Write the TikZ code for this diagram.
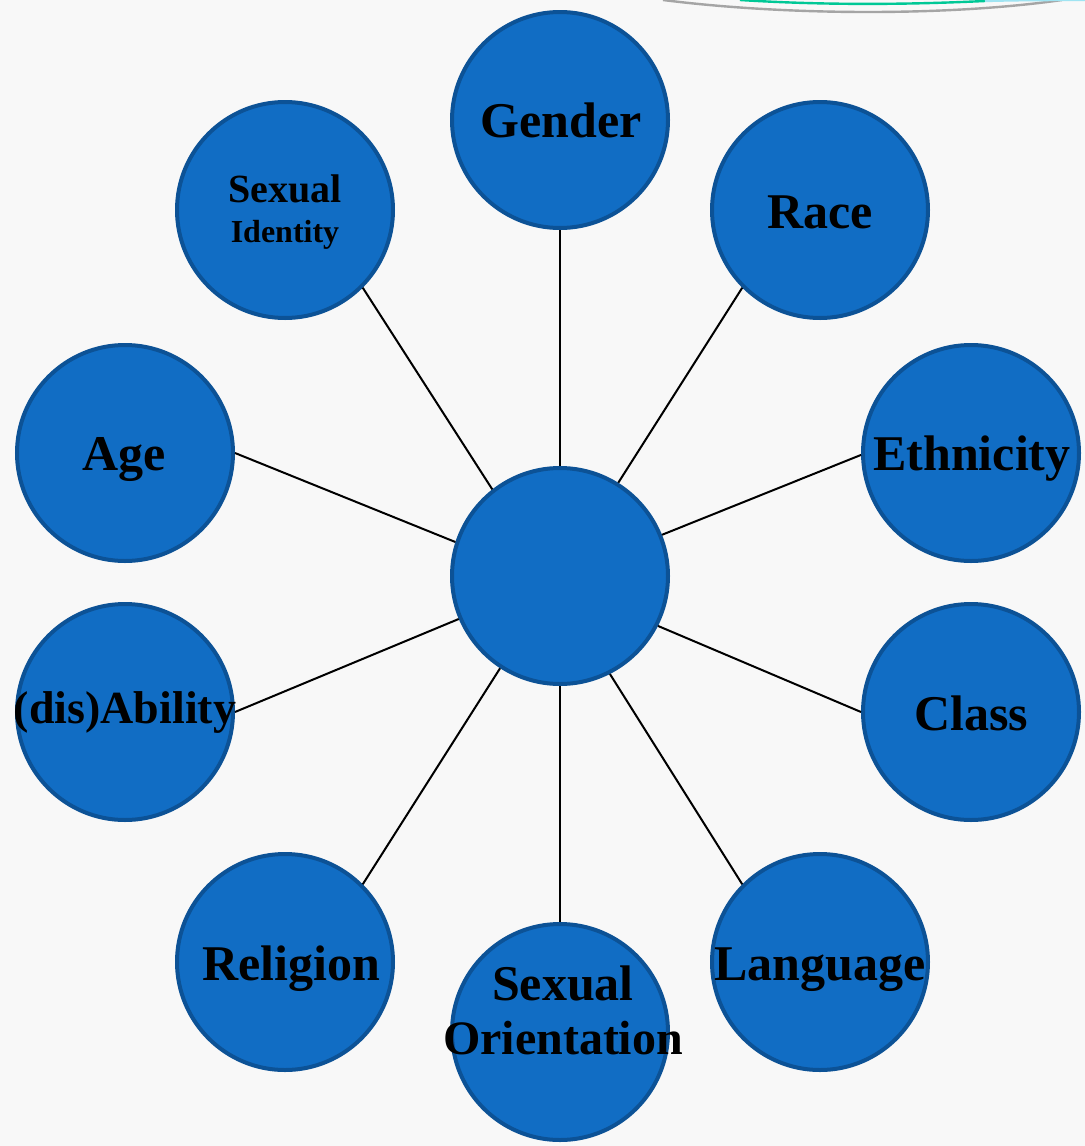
\documentclass[tikz,border=0pt]{standalone}
\usepackage{fontspec}
\setmainfont{Liberation Serif}

\definecolor{bgGray}{RGB}{248,248,248}
\definecolor{ballBlue}{RGB}{17,109,196}
\definecolor{ballEdge}{RGB}{12,82,150}
\definecolor{rimGray}{RGB}{165,165,165}
\definecolor{rimTeal}{RGB}{0,200,150}
\definecolor{rimCyan}{RGB}{160,228,242}

\tikzset{
  ball/.style={circle,draw=ballEdge,fill=ballBlue,line width=2pt,minimum size=108pt,inner sep=0pt},
  word/.style={font=\bfseries\fontsize{25}{30}\selectfont,text=black,align=center,inner sep=0pt},
  oneline/.style={word,text height=17pt,text depth=0pt}
}

\begin{document}
\begin{tikzpicture}[x=0.5pt,y=-0.5pt]
			\useasboundingbox (0,0) rectangle (1085,1146);
			\fill[bgGray] (0,0) rectangle (1085,1146);

			% rim of the slide, top right
			\draw[rimGray,line width=1.2pt] (663,0) .. controls (790,16) and (950,16) .. (1062,0);
			\draw[rimTeal,line width=1.2pt] (740,0) .. controls (820,5) and (900,5) .. (985,1);
			\draw[rimCyan,line width=1.2pt] (985,1) .. controls (1020,0) and (1050,0) .. (1085,0);

			\node[ball] (hub) at (560,576) {};
			\node[ball] (gender) at (560,120) {};
			\node[ball] (race) at (820,210) {};
			\node[ball] (ethnicity) at (971,453) {};
			\node[ball] (class) at (971,712) {};
			\node[ball] (language) at (820,962) {};
			\node[ball] (orient) at (560,1032) {};
			\node[ball] (religion) at (285,962) {};
			\node[ball] (ability) at (125,712) {};
			\node[ball] (age) at (125,453) {};
			\node[ball] (identity) at (285,210) {};

			\draw[line width=1pt] (gender.south) -- (hub.north);
			\draw[line width=1pt] (race.225) -- (hub.58);
			\draw[line width=1pt] (ethnicity.181) -- (hub.22.5);
			\draw[line width=1pt] (class.west) -- (hub.-27.5);
			\draw[line width=1pt] (language.135) -- (hub.-63);
			\draw[line width=1pt] (orient.north) -- (hub.south);
			\draw[line width=1pt] (religion.45) -- (hub.237);
			\draw[line width=1pt] (ability.east) -- (hub.203);
			\draw[line width=1pt] (age.east) -- (hub.162);
			\draw[line width=1pt] (identity.-45) -- (hub.128.5);

			% labels
			\node[oneline] (genderText) at (561,120) {Gender};
			\node[oneline] (raceText) at (820,211) {Race};
			\node[oneline] (ethnicityText) at (972,453) {Ethnicity};
			\node[oneline] (classText) at (971,713) {Class};
			\node[oneline] (languageText) at (820,963) {Language};
			\node[oneline] (religionText) at (291,963) {Religion};
			\node[oneline] (ageText) at (124,453) {Age};
			\node[oneline,font=\bfseries\fontsize{23}{28}\selectfont] (abilityText) at (125,706) {(dis)Ability};
			\node[word] (orientText) at (563,1010) {Sexual\\[-3pt]{\fontsize{24}{28}\selectfont Orientation}};
			\node[word,font=\bfseries\fontsize{20}{22}\selectfont] (identityText) at (285,212) {Sexual\\[-2pt]{\fontsize{16}{18}\selectfont Identity}};
\end{tikzpicture}
\end{document}
